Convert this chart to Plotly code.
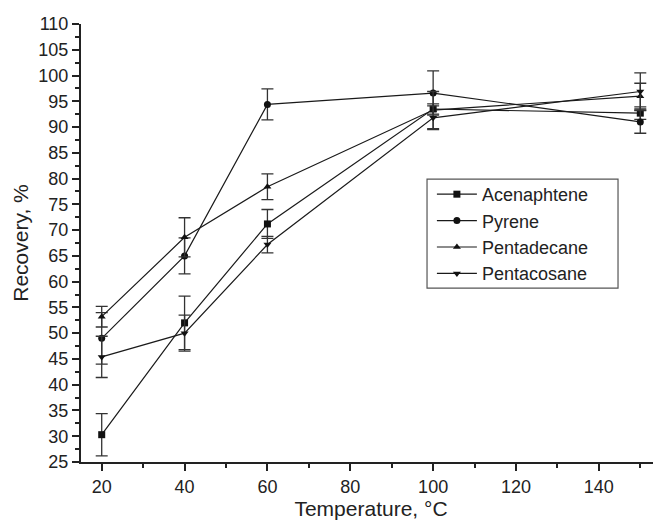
import plotly.graph_objects as go

temps = [20, 40, 60, 100, 150]
series_names = ["Acenaphtene", "Pyrene", "Pentadecane", "Pentacosane"]
acenaphtene = [30.3, 52.0, 71.2, 93.5, 92.7]
acenaphtene_err = [4.1, 5.2, 2.8, 1.0, 1.2]
pyrene = [49.0, 65.0, 94.4, 96.6, 91.0]
pyrene_err = [5.0, 3.5, 3.0, 4.3, 2.2]
pentadecane = [53.2, 68.6, 78.4, 93.3, 96.0]
pentadecane_err = [2.0, 3.8, 2.5, 3.6, 2.5]
pentacosane = [45.4, 50.0, 67.2, 91.8, 96.9]
pentacosane_err = [4.0, 3.5, 1.6, 2.3, 3.6]

values = [acenaphtene, pyrene, pentadecane, pentacosane]
errors = [acenaphtene_err, pyrene_err, pentadecane_err, pentacosane_err]
symbols = ["square", "circle", "triangle-up", "triangle-down"]

fig = go.Figure()
for i, (name, v, e, s) in enumerate(zip(series_names, values, errors, symbols)):
    fig.add_trace(go.Scatter(
        x=temps, y=v, name=name, mode="lines+markers",
        legendgroup=name,
        line=dict(color="#1a1a1a", width=1.2),
        marker=dict(symbol=s, size=7, color="#111111"),
        error_y=dict(type="data", array=e, visible=True, color="#333333",
                     thickness=1.3, width=6),
    ))

# page body has an 8px margin, so the figure is 8px smaller and margins shifted
font_family = "Liberation Sans, Arial, sans-serif"
fig.update_layout(
    width=653, height=516,
    margin=dict(l=73, r=0, t=16, b=62),
    paper_bgcolor="white", plot_bgcolor="white",
    font=dict(family=font_family, size=18, color="#222222"),
    showlegend=True,
    legend=dict(x=0.605, y=0.653, xanchor="left", yanchor="top",
                borderwidth=0, bgcolor="rgba(0,0,0,0)",
                font=dict(size=18, color="#222222"),
                tracegroupgap=0, itemwidth=40),
    shapes=[dict(type="rect", xref="paper", yref="paper",
                 x0=0.5966, x1=0.9259, y0=0.397, y1=0.646,
                 line=dict(color="#555555", width=1.2), fillcolor="rgba(0,0,0,0)")],
    xaxis=dict(range=[15, 155], tickvals=[20, 40, 60, 80, 100, 120, 140],
               automargin=False,
               ticks="outside", ticklen=7, tickwidth=1.8, tickcolor="#222222",
               showline=True, linewidth=2, linecolor="#222222",
               showgrid=False, zeroline=False,
               minor=dict(tickvals=[30, 50, 70, 90, 110, 130, 150], ticks="outside",
                          ticklen=4, tickwidth=1.5, tickcolor="#222222", showgrid=False),
               title=dict(text="Temperature, °C", font=dict(size=21), standoff=2),
               tickfont=dict(size=18)),
    yaxis=dict(range=[25, 110], tickvals=list(range(25, 111, 5)),
               automargin=False,
               ticks="outside", ticklen=7, tickwidth=1.8, tickcolor="#222222",
               showline=True, linewidth=2, linecolor="#222222",
               showgrid=False, zeroline=False,
               minor=dict(tickvals=[x + 2.5 for x in range(25, 110, 5)], ticks="outside",
                          ticklen=4, tickwidth=1.5, tickcolor="#222222", showgrid=False),
               title=dict(text="Recovery, %", font=dict(size=21), standoff=4),
               tickfont=dict(size=18)),
)

fig.write_html("out.html")
